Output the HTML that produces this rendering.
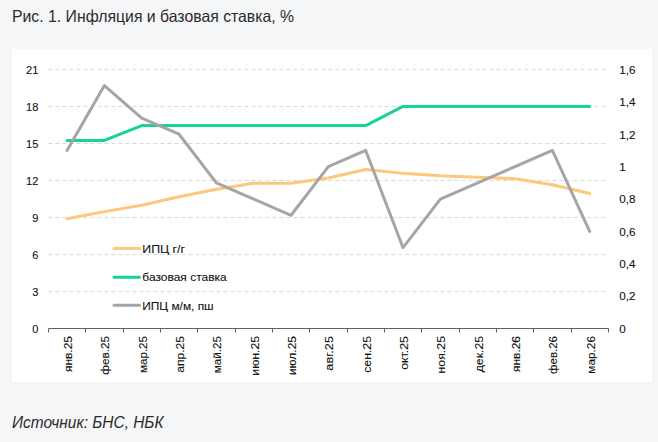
<!DOCTYPE html>
<html><head><meta charset="utf-8"><style>
html,body{margin:0;padding:0;}
body{width:658px;height:442px;background:#f5f6f8;position:relative;overflow:hidden;font-family:"Liberation Sans", sans-serif;}
.title{position:absolute;left:12px;top:7px;font-size:16.5px;line-height:19px;color:#2b2b2b;white-space:nowrap;transform-origin:0 0;transform:scaleX(0.957);}
.src{position:absolute;left:12px;top:413px;font-size:16px;line-height:19px;font-style:italic;color:#2b2b2b;white-space:nowrap;transform-origin:0 0;transform:scaleX(0.965);}
.box{position:absolute;left:12px;top:49px;width:640px;height:333px;background:#fff;}
svg{position:absolute;left:0;top:0;}
.ax{font-family:"Liberation Sans", sans-serif;font-size:11px;fill:#111;stroke:#111;stroke-width:0.1px;}
</style></head><body>
<div class="title">Рис. 1. Инфляция и базовая ставка, %</div>
<div class="box"></div>
<svg width="658" height="442" viewBox="0 0 658 442">
<line x1="48.4" y1="291.66" x2="608.35" y2="291.66" stroke="#d9d9d9" stroke-width="1" stroke-dasharray="4 3"/>
<line x1="48.4" y1="254.61" x2="608.35" y2="254.61" stroke="#d9d9d9" stroke-width="1" stroke-dasharray="4 3"/>
<line x1="48.4" y1="217.57" x2="608.35" y2="217.57" stroke="#d9d9d9" stroke-width="1" stroke-dasharray="4 3"/>
<line x1="48.4" y1="180.53" x2="608.35" y2="180.53" stroke="#d9d9d9" stroke-width="1" stroke-dasharray="4 3"/>
<line x1="48.4" y1="143.49" x2="608.35" y2="143.49" stroke="#d9d9d9" stroke-width="1" stroke-dasharray="4 3"/>
<line x1="48.4" y1="106.44" x2="608.35" y2="106.44" stroke="#d9d9d9" stroke-width="1" stroke-dasharray="4 3"/>
<line x1="48.4" y1="69.40" x2="608.35" y2="69.40" stroke="#d9d9d9" stroke-width="1" stroke-dasharray="4 3"/>
<text x="38.3" y="333.30" text-anchor="end" class="ax">0</text>
<text x="38.3" y="296.26" text-anchor="end" class="ax">3</text>
<text x="38.3" y="259.21" text-anchor="end" class="ax">6</text>
<text x="38.3" y="222.17" text-anchor="end" class="ax">9</text>
<text x="38.3" y="185.13" text-anchor="end" class="ax">12</text>
<text x="38.3" y="148.09" text-anchor="end" class="ax">15</text>
<text x="38.3" y="111.04" text-anchor="end" class="ax">18</text>
<text x="38.3" y="74.00" text-anchor="end" class="ax">21</text>
<text transform="translate(619.3,333.00) scale(1.06,1)" class="ax">0</text>
<text transform="translate(619.3,299.89) scale(1.06,1)" class="ax">0,2</text>
<text transform="translate(619.3,268.18) scale(1.06,1)" class="ax">0,4</text>
<text transform="translate(619.3,235.76) scale(1.06,1)" class="ax">0,6</text>
<text transform="translate(619.3,202.65) scale(1.06,1)" class="ax">0,8</text>
<text transform="translate(619.3,170.94) scale(1.06,1)" class="ax">1</text>
<text transform="translate(619.3,138.52) scale(1.06,1)" class="ax">1,2</text>
<text transform="translate(619.3,106.11) scale(1.06,1)" class="ax">1,4</text>
<text transform="translate(619.3,73.70) scale(1.06,1)" class="ax">1,6</text>
<path d="M48.5,332.5 V328.5 H608.5 V332.5" fill="none" stroke="#606060" stroke-width="1"/>
<line x1="85.50" y1="328.5" x2="85.50" y2="332.5" stroke="#606060" stroke-width="1"/>
<line x1="123.50" y1="328.5" x2="123.50" y2="332.5" stroke="#606060" stroke-width="1"/>
<line x1="160.50" y1="328.5" x2="160.50" y2="332.5" stroke="#606060" stroke-width="1"/>
<line x1="197.50" y1="328.5" x2="197.50" y2="332.5" stroke="#606060" stroke-width="1"/>
<line x1="235.50" y1="328.5" x2="235.50" y2="332.5" stroke="#606060" stroke-width="1"/>
<line x1="272.50" y1="328.5" x2="272.50" y2="332.5" stroke="#606060" stroke-width="1"/>
<line x1="309.50" y1="328.5" x2="309.50" y2="332.5" stroke="#606060" stroke-width="1"/>
<line x1="347.50" y1="328.5" x2="347.50" y2="332.5" stroke="#606060" stroke-width="1"/>
<line x1="384.50" y1="328.5" x2="384.50" y2="332.5" stroke="#606060" stroke-width="1"/>
<line x1="421.50" y1="328.5" x2="421.50" y2="332.5" stroke="#606060" stroke-width="1"/>
<line x1="459.50" y1="328.5" x2="459.50" y2="332.5" stroke="#606060" stroke-width="1"/>
<line x1="496.50" y1="328.5" x2="496.50" y2="332.5" stroke="#606060" stroke-width="1"/>
<line x1="533.50" y1="328.5" x2="533.50" y2="332.5" stroke="#606060" stroke-width="1"/>
<line x1="571.50" y1="328.5" x2="571.50" y2="332.5" stroke="#606060" stroke-width="1"/>
<text transform="translate(72.16,336.0) rotate(-90) scale(1.0878,1)" text-anchor="end" class="ax">янв.25</text>
<text transform="translate(109.49,336.0) rotate(-90) scale(1.0662,1)" text-anchor="end" class="ax">фев.25</text>
<text transform="translate(146.82,336.0) rotate(-90) scale(1.0537,1)" text-anchor="end" class="ax">мар.25</text>
<text transform="translate(184.16,336.0) rotate(-90) scale(1.1000,1)" text-anchor="end" class="ax">апр.25</text>
<text transform="translate(221.48,336.0) rotate(-90) scale(1.0624,1)" text-anchor="end" class="ax">май.25</text>
<text transform="translate(258.81,336.0) rotate(-90) scale(1.1113,1)" text-anchor="end" class="ax">июн.25</text>
<text transform="translate(296.14,336.0) rotate(-90) scale(1.0915,1)" text-anchor="end" class="ax">июл.25</text>
<text transform="translate(333.47,336.0) rotate(-90) scale(1.1584,1)" text-anchor="end" class="ax">авг.25</text>
<text transform="translate(370.81,336.0) rotate(-90) scale(1.1157,1)" text-anchor="end" class="ax">сен.25</text>
<text transform="translate(408.13,336.0) rotate(-90) scale(1.1233,1)" text-anchor="end" class="ax">окт.25</text>
<text transform="translate(445.46,336.0) rotate(-90) scale(1.1214,1)" text-anchor="end" class="ax">ноя.25</text>
<text transform="translate(482.79,336.0) rotate(-90) scale(1.1122,1)" text-anchor="end" class="ax">дек.25</text>
<text transform="translate(520.12,336.0) rotate(-90) scale(1.0847,1)" text-anchor="end" class="ax">янв.26</text>
<text transform="translate(557.46,336.0) rotate(-90) scale(1.0464,1)" text-anchor="end" class="ax">фев.26</text>
<text transform="translate(594.78,336.0) rotate(-90) scale(1.0739,1)" text-anchor="end" class="ax">мар.26</text>
<polyline points="67.06,218.81 104.39,211.64 141.72,205.22 179.06,196.83 216.38,189.17 253.72,183.25 291.04,183.25 328.37,178.06 365.70,169.42 403.03,173.37 440.36,175.84 477.69,177.32 515.02,178.80 552.36,184.73 589.68,193.49" fill="none" stroke="#fdc87c" stroke-width="3" stroke-linejoin="round" stroke-linecap="round"/>
<polyline points="67.06,140.40 104.39,140.40 141.72,125.58 179.06,125.58 216.38,125.58 253.72,125.58 291.04,125.58 328.37,125.58 365.70,125.58 403.03,106.44 440.36,106.44 477.69,106.44 515.02,106.44 552.36,106.44 589.68,106.44" fill="none" stroke="#16d398" stroke-width="3" stroke-linejoin="round" stroke-linecap="round"/>
<polyline points="67.06,150.43 104.39,85.61 141.72,118.02 179.06,134.22 216.38,182.84 253.72,199.05 291.04,215.26 328.37,166.64 365.70,150.43 403.03,247.67 440.36,199.05 477.69,182.84 515.02,166.64 552.36,150.43 589.68,231.46" fill="none" stroke="#a5a5a5" stroke-width="3" stroke-linejoin="round" stroke-linecap="round"/>
<line x1="114" y1="248.5" x2="139.5" y2="248.5" stroke="#fdc87c" stroke-width="3" stroke-linecap="round"/>
<text transform="translate(142.3,252.7) scale(1.1200,1)" class="ax">ИПЦ г/г</text>
<line x1="114" y1="277.2" x2="139.5" y2="277.2" stroke="#16d398" stroke-width="3" stroke-linecap="round"/>
<text transform="translate(142.3,281.4) scale(1.0900,1)" class="ax">базовая ставка</text>
<line x1="114" y1="305.3" x2="139.5" y2="305.3" stroke="#a5a5a5" stroke-width="3" stroke-linecap="round"/>
<text transform="translate(142.3,309.5) scale(1.0800,1)" class="ax">ИПЦ м/м, пш</text>
</svg>
<div class="src">Источник: БНС, НБК</div>
</body></html>
